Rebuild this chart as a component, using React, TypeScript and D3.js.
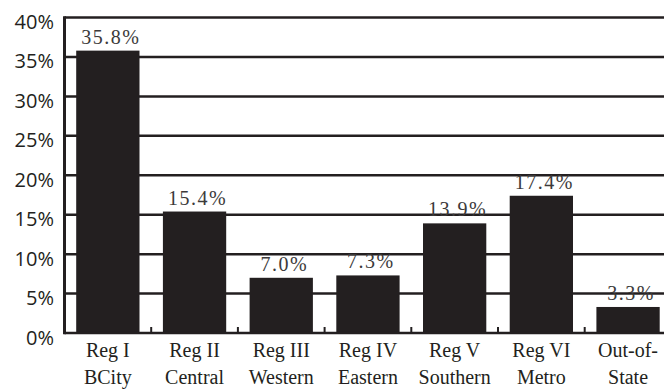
import React from "react";
import * as d3 from "d3";

const categories = ["Reg I|BCity", "Reg II|Central", "Reg III|Western", "Reg IV|Eastern", "Reg V|Southern", "Reg VI|Metro", "Out-of-|State"];
const values = [35.8, 15.4, 7.0, 7.3, 13.9, 17.4, 3.3];
const yTicks = [0, 5, 10, 15, 20, 25, 30, 35, 40];

const W = 664;
const H = 390;
const left = 64.5;
const step = 86.7;
const top = 17.5;
const bottom = 333;
const ink = "#231f20";
const serif = "Liberation Serif, Times New Roman, serif";

export default function App() {
  const x = d3
    .scaleBand<string>()
    .domain(categories)
    .range([left, left + step * categories.length])
    .paddingInner(0.27)
    .paddingOuter(0.135);
  const y = d3.scaleLinear().domain([0, 40]).range([bottom, top]);
  const st = x.step();

  return (
    <svg width={W} height={H} style={{ position: "absolute", left: 0, top: 0, background: "#fff" }}>
      {yTicks.map((t) => (
        <g key={t}>
          {t > 0 && (
            <line x1={left} x2={W + 10} y1={y(t)} y2={y(t)} stroke={ink} strokeWidth={2.5} />
          )}
          <text
            x={54}
            y={y(t) + 11.5}
            textAnchor="end"
            style={{ fontFamily: "Open Sans, Noto Sans, sans-serif", fontSize: 20 }}
            fill={ink}
          >
            {t}%
          </text>
        </g>
      ))}
      {categories.map((c, i) => (
        <rect
          key={c}
          x={x(c)!}
          y={y(values[i])}
          width={x.bandwidth()}
          height={y(0) - y(values[i])}
          fill={ink}
        />
      ))}
      <line x1={left} x2={left} y1={top - 1.25} y2={bottom + 1.25} stroke={ink} strokeWidth={3} />
      <line x1={left} x2={W + 10} y1={bottom} y2={bottom} stroke={ink} strokeWidth={2.5} />
      {categories.map((c, i) =>
        i > 0 ? (
          <line key={"t" + c} x1={left + st * i} x2={left + st * i} y1={bottom} y2={bottom - 6} stroke={ink} strokeWidth={2} />
        ) : null
      )}
      {categories.map((c, i) => (
        <text
          key={"v" + c}
          x={x(c)! + x.bandwidth() / 2 + 3}
          y={y(values[i]) - 7}
          textAnchor="middle"
          style={{ fontFamily: serif, fontSize: 20, letterSpacing: 1.5 }}
          fill="#3c3a3a"
        >
          {values[i].toFixed(1)}%
        </text>
      ))}
      {categories.map((c) => {
        const [a, b] = c.split("|");
        const cx = x(c)! + x.bandwidth() / 2;
        return (
          <text key={"c" + c} textAnchor="middle" style={{ fontFamily: serif, fontSize: 20 }} fill={ink}>
            <tspan x={cx} y={357}>{a}</tspan>
            <tspan x={cx} y={384}>{b}</tspan>
          </text>
        );
      })}
    </svg>
  );
}
